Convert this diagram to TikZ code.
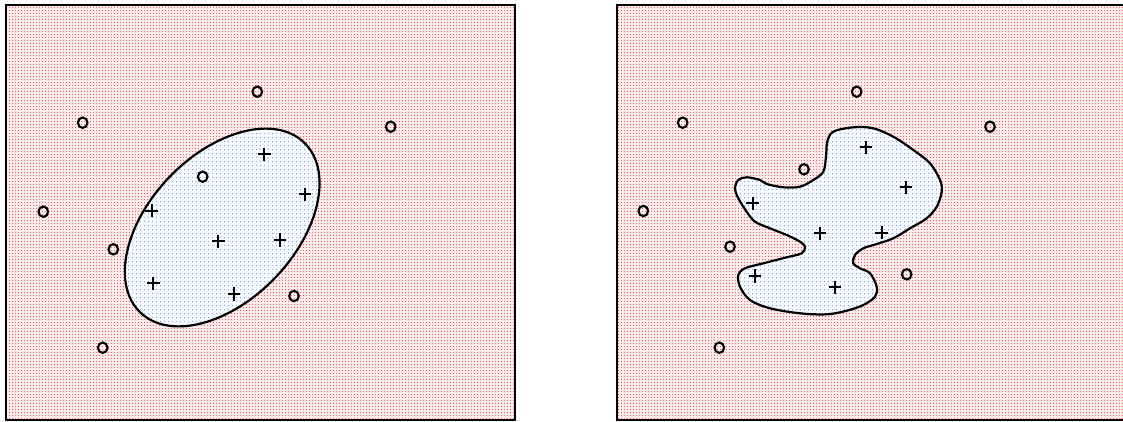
\documentclass[tikz,border=0pt]{standalone}
\usetikzlibrary{patterns.meta}
\definecolor{dotred}{RGB}{232,95,105}
\definecolor{dotblue}{RGB}{110,165,230}
\definecolor{bgpink}{RGB}{252,236,236}
\definecolor{bgblue}{RGB}{246,250,254}
\tikzdeclarepattern{
  name=reddots,
  type=colored,
  bottom left={(0pt,0pt)},
  top right={(3pt,3pt)},
  tile size={(3pt,3pt)},
  code={\fill[dotred] (0pt,0pt) rectangle (1.1pt,1.1pt);}
}
\tikzdeclarepattern{
  name=bluedots,
  type=colored,
  bottom left={(0pt,0pt)},
  top right={(4pt,4pt)},
  tile size={(4pt,4pt)},
  code={\fill[dotblue] (0pt,0pt) rectangle (1.2pt,1.2pt);}
}
\tikzset{
  frame/.style={line width=2pt, preaction={fill=bgpink}, pattern={reddots}},
  region/.style={line width=2.2pt, preaction={fill=bgblue}, pattern={bluedots}},
  mk/.style={line width=2.1pt, black},
  omk/.pic={\draw[mk] (0,0) ellipse [x radius=4.8, y radius=5.2];},
  pmk/.pic={\draw[mk] (-6.3,0) -- (6.3,0) (0,-6.6) -- (0,6.6);}
}
\begin{document}
\begin{tikzpicture}[x=1pt,y=-1pt]
\useasboundingbox (0,0) rectangle (1123,422);
\fill[white] (0,0) rectangle (1123,422);
% frames
\draw[frame] (6,5.5) rectangle (515,419.5);
\begin{scope}
\clip (0,0) rectangle (1123,422);
\draw[frame] (616.5,5.5) rectangle (1126,419.5);
\end{scope}
% left region (ellipse)
\draw[region, rotate around={46:(222.2,227.5)}] (222.2,227.5) ellipse [x radius=118, y radius=73];
% right region (blob)
\draw[region] plot[smooth cycle, tension=0.55] coordinates {
(833.3,131.7) (853.3,127.3) (873.3,128.3) (893.3,136.7) (913.3,150) (930,163.3)
(940,180) (941.7,191.7) (936.7,206.7) (926.7,218.3) (910,228.3) (893.3,238.3)
(876.7,244) (863.3,248.3) (855,255) (853.3,263.3) (860,268.3) (870,273.3)
(876.7,286.7) (875,296.7) (863.3,305) (846.7,310.7) (826.7,314.3) (800,313.3)
(770,308.3) (750,300) (740,286.7) (738.3,275) (745,268.3) (763.3,263.3)
(786.7,257.3) (801.7,253.3) (805,246.7) (800,241.7) (786.7,235) (770,228.3)
(755,221.7) (746.7,211.7) (738.3,198.3) (735,188.3) (738.3,180) (746.7,177.3)
(760,180) (766.7,184) (783.3,187.3) (800,186.7) (813.3,180) (823.3,171.7)
(826,156.7) (827.3,141.7)};
% left markers
\foreach \x/\y in {257.3/91.7, 82.7/122.7, 390.7/126.7, 202.7/176.7, 43.3/211.7, 113.3/249.3, 294/296, 102.7/347.7}
  \pic at (\x,\y) {omk};
\foreach \x/\y in {264.3/154.3, 305/194.3, 151.7/210.7, 218.3/241.3, 280/240, 153.3/283.3, 234/294}
  \pic at (\x,\y) {pmk};
% right markers
\foreach \x/\y in {856.7/91.7, 682.7/122.7, 990/126.7, 804/169.3, 643.3/211, 730/246.7, 906.7/274.3, 719.3/347.7}
  \pic at (\x,\y) {omk};
\foreach \x/\y in {866/147.3, 906/187.3, 752.7/203.3, 820/233.3, 881.7/232.7, 755/276, 835/287.3}
  \pic at (\x,\y) {pmk};
\end{tikzpicture}
\end{document}
